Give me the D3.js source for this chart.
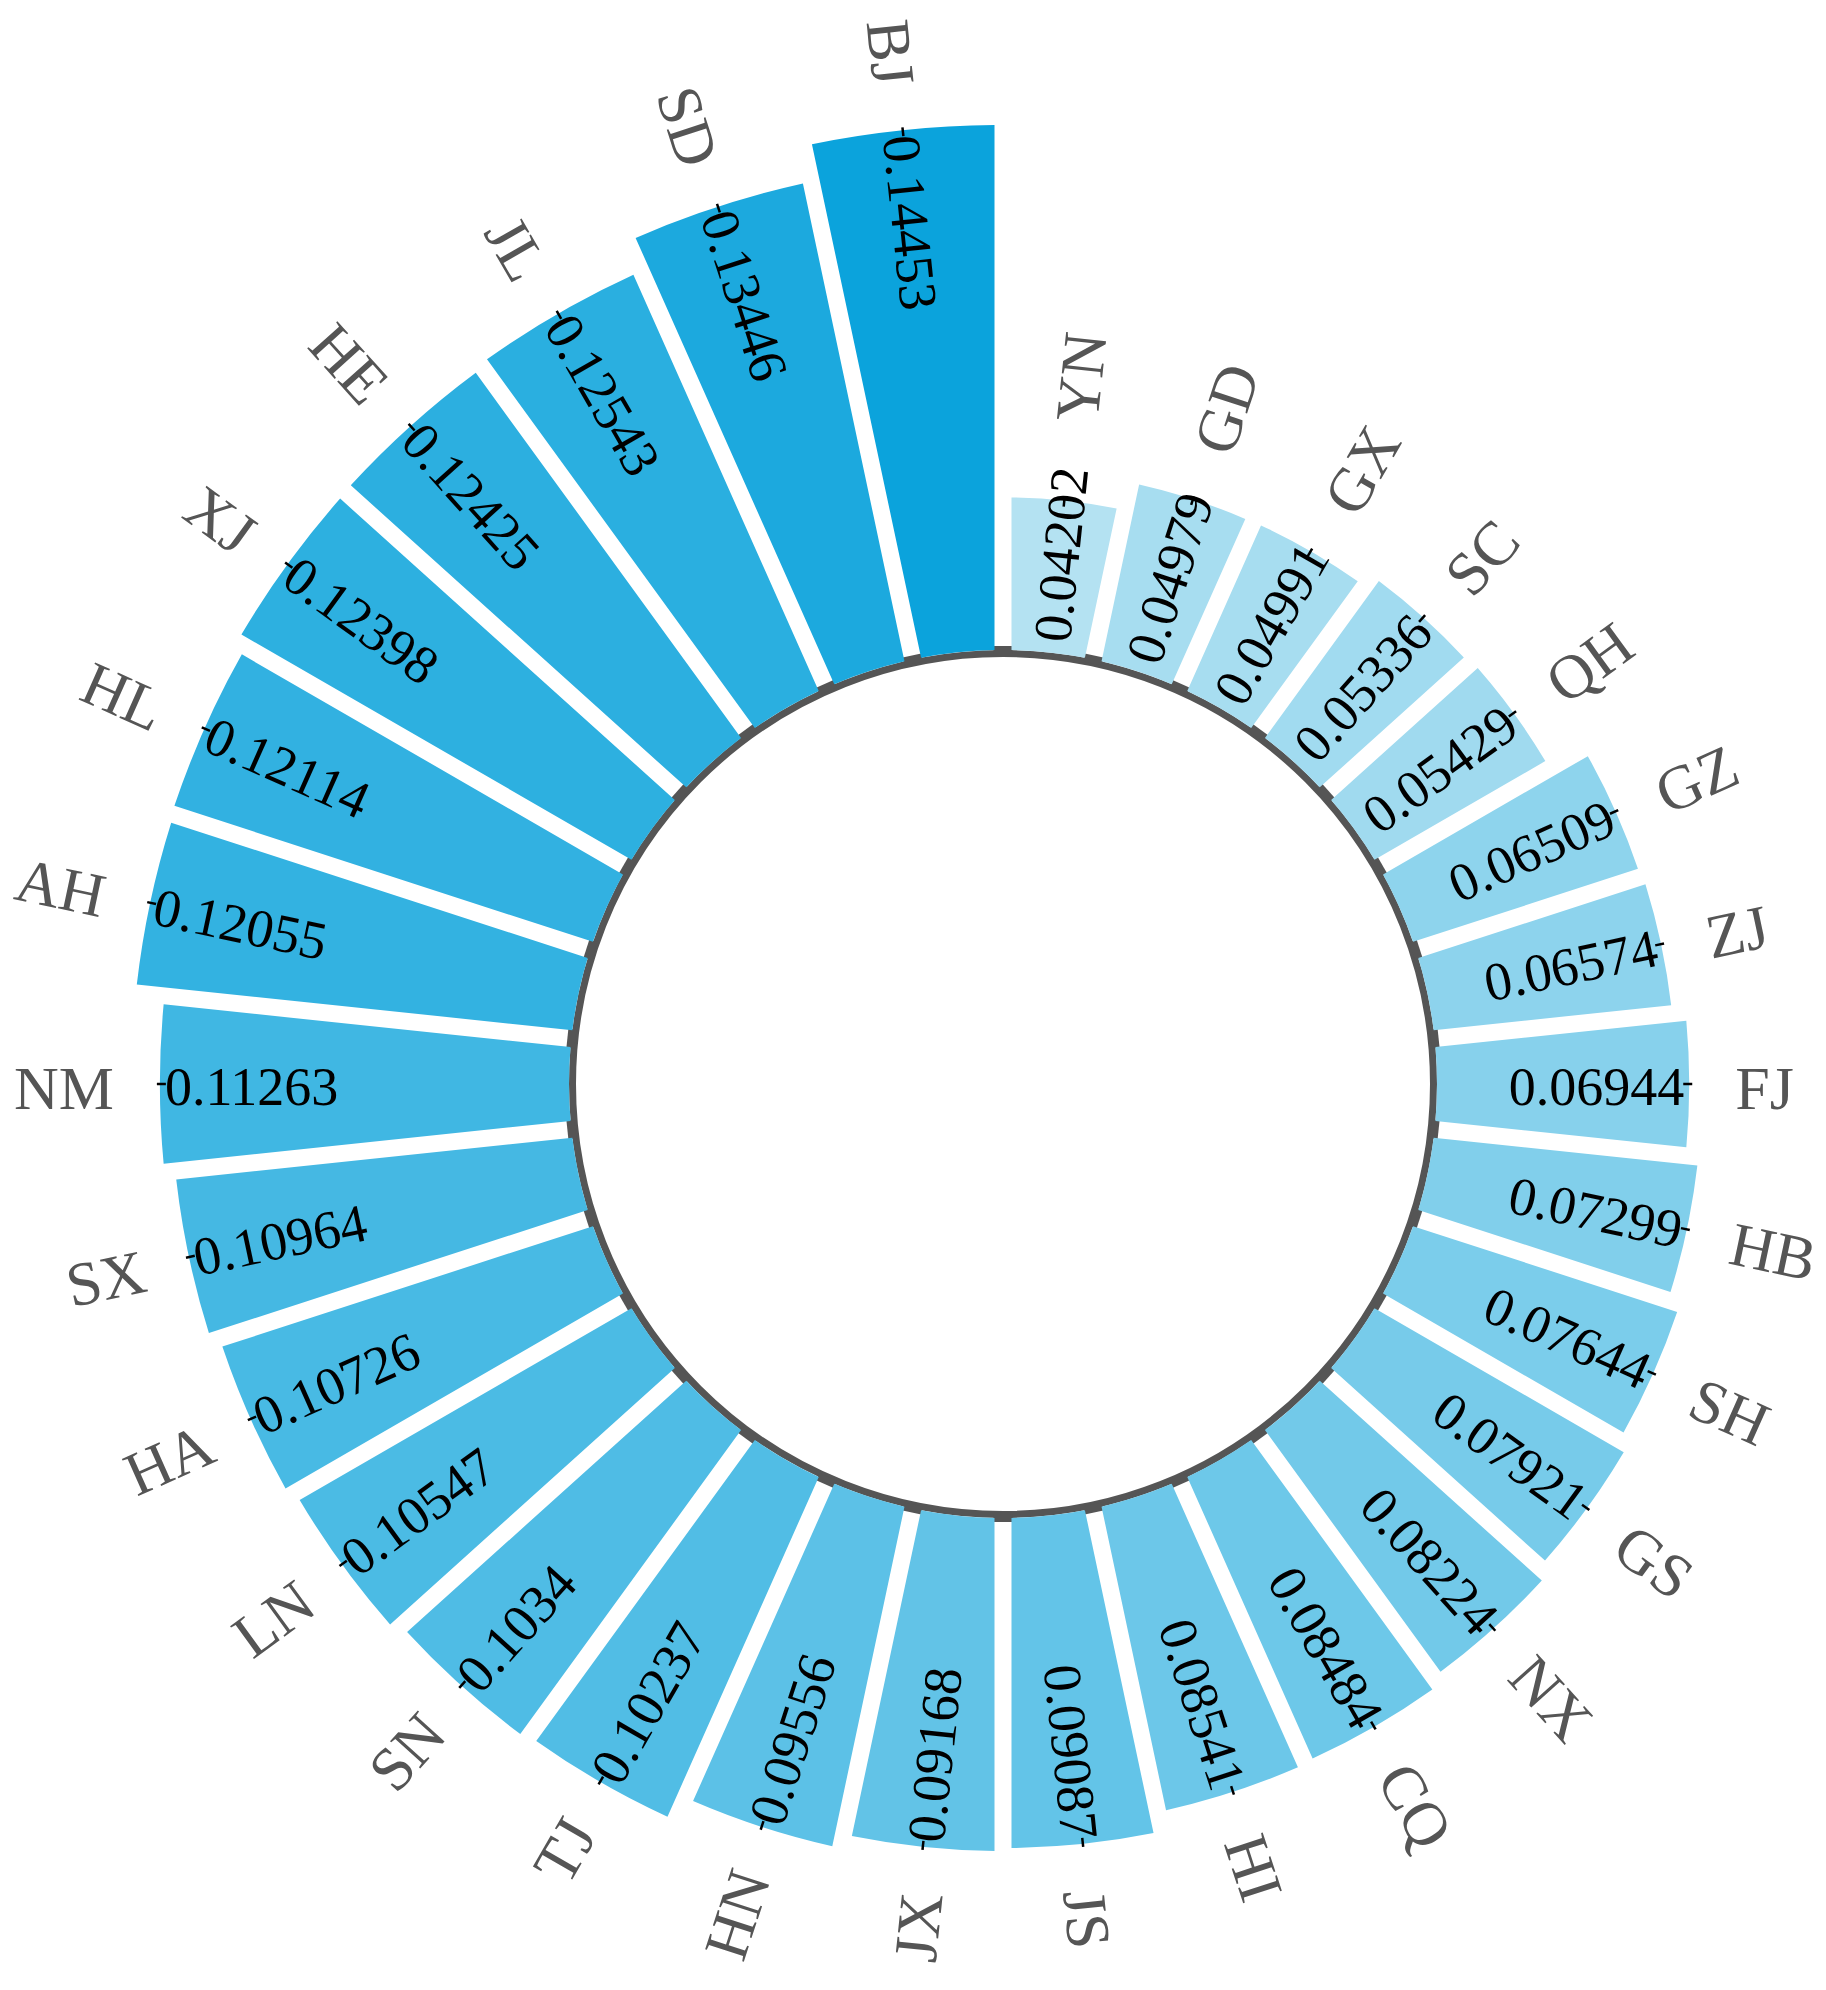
<!DOCTYPE html>
<html lang="en">

<head>
  <meta charset="utf-8">
  <title>Radial bar chart</title>
  <script src="https://d3js.org/d3.v7.min.js"></script>
  <style>
    body {
      margin: 0;
      background: #fff;
    }

    text {
      font-family: "Liberation Serif", "Times New Roman", serif;
    }
  </style>
</head>

<body>
  <svg width="1826" height="1990"></svg>

  <script>
    // provinces, sorted by value, clockwise from 12 o'clock
    var categories = ["YN", "GD", "GX", "SC", "QH", "GZ", "ZJ", "FJ", "HB", "SH",
      "GS", "NX", "CQ", "HI", "JS", "JX", "HN", "TJ", "SN", "LN",
      "HA", "SX", "NM", "AH", "HL", "XJ", "HE", "JL", "SD", "BJ"];

    var values = [0.04202, 0.04979, 0.04991, 0.05336, 0.05429, 0.06509, 0.06574, 0.06944, 0.07299, 0.07644,
      0.07921, 0.08224, 0.08484, 0.08541, 0.09087, 0.09168, 0.09556, 0.10237, 0.1034, 0.10547,
      0.10726, 0.10964, 0.11263, 0.12055, 0.12114, 0.12398, 0.12425, 0.12543, 0.13446, 0.14453];

    var valueLabels = ["0.04202", "0.04979", "0.04991", "0.05336", "0.05429", "0.06509", "0.06574", "0.06944", "0.07299", "0.07644",
      "0.07921", "0.08224", "0.08484", "0.08541", "0.09087", "0.09168", "0.09556", "0.10237", "0.1034", "0.10547",
      "0.10726", "0.10964", "0.11263", "0.12055", "0.12114", "0.12398", "0.12425", "0.12543", "0.13446", "0.14453"];

    var svg = d3.select("svg"),
      width = +svg.attr("width"),
      height = +svg.attr("height");

    var cx = 1003, cy = 1084,
      innerR = 434, outerR = 959,
      gap = 17;

    var data = categories.map(function (c, i) {
      return { name: c, value: values[i], label: valueLabels[i] };
    });

    var angle = d3.scaleBand()
      .domain(categories)
      .range([0, 2 * Math.PI]);

    var y = d3.scaleLinear()
      .domain([0, d3.max(values)])
      .range([innerR, outerR]);

    var color = d3.scaleLinear()
      .domain(d3.extent(values))
      .range(["#b4e2f2", "#0ba3dc"]);

    var arc = d3.arc()
      .innerRadius(innerR)
      .outerRadius(function (d) { return y(d.value); })
      .startAngle(function (d) { return angle(d.name); })
      .endAngle(function (d) { return angle(d.name) + angle.bandwidth(); })
      .padAngle(gap / innerR)
      .padRadius(innerR);

    function midDeg(d) {
      return (angle(d.name) + angle.bandwidth() / 2) * 180 / Math.PI;
    }

    var g = svg.append("g")
      .attr("transform", "translate(" + cx + "," + cy + ")");

    // angular axis: circle + ticks between bars
    g.append("circle")
      .attr("r", innerR - 3.5)
      .attr("fill", "none")
      .attr("stroke", "#555")
      .attr("stroke-width", 7);

    g.append("g")
      .selectAll("line")
      .data(categories)
      .enter().append("line")
      .attr("transform", function (c) { return "rotate(" + (angle(c) * 180 / Math.PI - 90) + ")"; })
      .attr("x1", innerR - 4)
      .attr("x2", innerR + 4)
      .attr("stroke", "#555")
      .attr("stroke-width", gap + 2);

    // bars
    g.append("g")
      .selectAll("path")
      .data(data)
      .enter().append("path")
      .attr("d", arc)
      .attr("fill", function (d) { return color(d.value); });

    // small marks at the end of each bar
    g.append("g")
      .selectAll("line")
      .data(data)
      .enter().append("line")
      .attr("transform", function (d) { return "rotate(" + (midDeg(d) - 90) + ")"; })
      .attr("x1", function (d) { return y(d.value) - 6; })
      .attr("x2", function (d) { return y(d.value) + 3; })
      .attr("stroke", "#000")
      .attr("stroke-width", 2.5);

    // value labels, inside the bar end, kept off the inner circle
    var valueText = g.append("g")
      .selectAll("text")
      .data(data)
      .enter().append("text")
      .attr("font-size", 54)
      .attr("fill", "#000")
      .attr("dy", "0.38em")
      .text(function (d) { return d.label; });

    valueText.each(function (d) {
      var len = this.getComputedTextLength();
      var r = y(d.value);
      var p = Math.max(r - 5, innerR + 11 + len);
      d.labelEnd = Math.max(r, p);
      var a = midDeg(d);
      var right = a < 180;
      d3.select(this)
        .attr("text-anchor", right ? "end" : "start")
        .attr("transform", "rotate(" + (a - 90) + ") translate(" + p + ",0)" + (right ? "" : " rotate(180)"));
    });

    // category labels
    g.append("g")
      .selectAll("text")
      .data(data)
      .enter().append("text")
      .attr("font-size", 62)
      .attr("fill", "#555")
      .attr("dy", "0.4em")
      .attr("text-anchor", function (d) { return midDeg(d) < 180 ? "start" : "end"; })
      .attr("transform", function (d) {
        var a = midDeg(d);
        var q = d.labelEnd + 46;
        return "rotate(" + (a - 90) + ") translate(" + q + ",0)" + (a < 180 ? "" : " rotate(180)");
      })
      .text(function (d) { return d.name; });
  </script>
</body>

</html>
